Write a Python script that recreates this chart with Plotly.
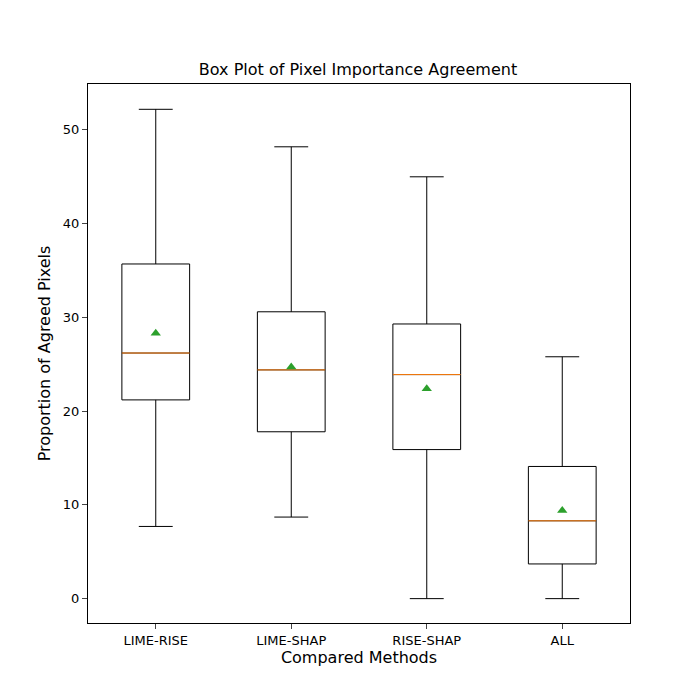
import plotly.graph_objects as go

methods = ["LIME-RISE", "LIME-SHAP", "RISE-SHAP", "ALL"]
low = [7.7, 8.7, 0.0, 0.0]
q1 = [21.2, 17.8, 15.9, 3.7]
median = [26.2, 24.4, 23.9, 8.3]
q3 = [35.7, 30.6, 29.3, 14.1]
high = [52.2, 48.2, 45.0, 25.8]
mean = [28.3, 24.7, 22.4, 9.4]

pos = list(range(len(methods)))
fig = go.Figure()
fig.add_trace(go.Box(
    x=pos, q1=q1, median=median, q3=q3, lowerfence=low, upperfence=high,
    width=0.5, whiskerwidth=0.5, fillcolor="rgba(0,0,0,0)",
    line=dict(color="black", width=1), boxpoints=False, showlegend=False,
    hoverinfo="skip"))
# orange median lines
for i, m in zip(pos, median):
    fig.add_trace(go.Scatter(x=[i - 0.25, i + 0.25], y=[m, m], mode="lines",
                             line=dict(color="#ff7f0e", width=1), showlegend=False))
fig.add_trace(go.Scatter(x=pos, y=mean, mode="markers",
                         marker=dict(symbol="triangle-up", color="#2ca02c", size=9),
                         showlegend=False))

fig.update_layout(
    width=700, height=700, plot_bgcolor="white", paper_bgcolor="white",
    margin=dict(l=80, r=78, t=76, b=85),
    font=dict(family="DejaVu Sans", size=13, color="black"),
    title=dict(text="Box Plot of Pixel Importance Agreement", x=0.5, y=0.905,
               xanchor="center", yanchor="bottom", font=dict(size=16)),
    xaxis=dict(range=[-0.5, 3.5], tickvals=pos, ticktext=methods,
               title=dict(text="Compared Methods", standoff=4),
               showline=True, mirror=True, linecolor="black", showgrid=False,
               ticks="outside", zeroline=False),
    yaxis=dict(range=[-2.6, 54.9], tickvals=[0, 10, 20, 30, 40, 50],
               title=dict(text="Proportion of Agreed Pixels", standoff=8),
               showline=True, mirror=True, linecolor="black", showgrid=False,
               ticks="outside", zeroline=False),
)
fig.write_html("out.html")
